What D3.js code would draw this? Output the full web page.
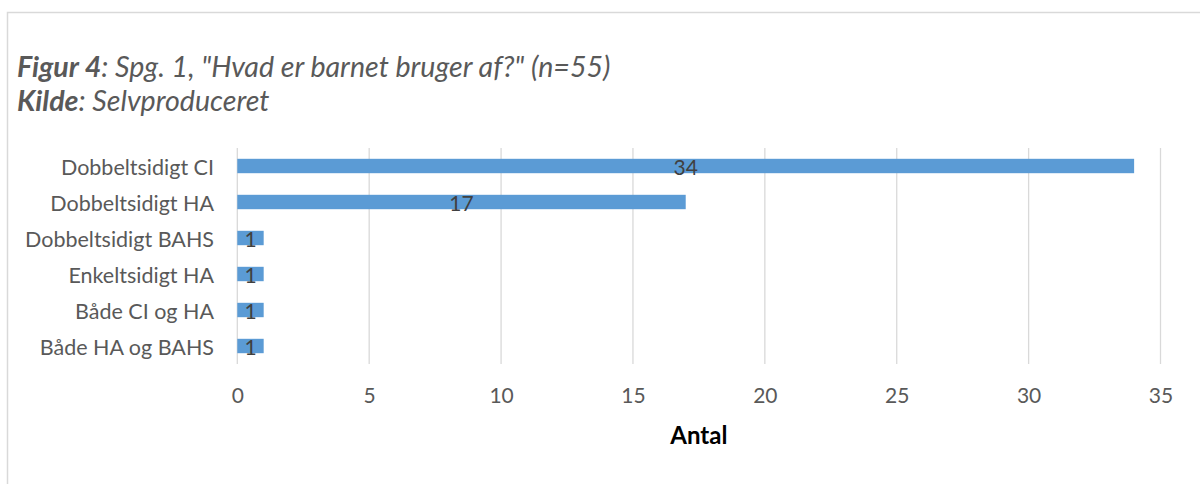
<!DOCTYPE html>
<html>
<head>
<meta charset="utf-8">
<script src="https://cdn.jsdelivr.net/npm/d3@7"></script>
<style>
  html, body { margin: 0; padding: 0; background: #fff; }
  svg { display: block; }
  text { font-family: Lato, "Open Sans", sans-serif; }
</style>
</head>
<body>
<svg id="chart" width="1200" height="484"></svg>
<script>
// Survey answers: what hearing device the child uses
const categories = [
  "Dobbeltsidigt CI",
  "Dobbeltsidigt HA",
  "Dobbeltsidigt BAHS",
  "Enkeltsidigt HA",
  "Både CI og HA",
  "Både HA og BAHS"
];
const counts = [34, 17, 1, 1, 1, 1];
const xTicks = [0, 5, 10, 15, 20, 25, 30, 35];
const xTitle = "Antal";

const svg = d3.select("#chart");

// Outer chart frame
svg.append("path")
  .attr("d", "M7.5,490 L7.5,12.5 L1210,12.5")
  .attr("fill", "none")
  .attr("stroke", "#d9d9d9")
  .attr("stroke-width", 1.5);

// Title block
const title = svg.append("text")
  .attr("x", 17)
  .attr("y", 77)
  .attr("font-size", 28.6)
  .attr("font-style", "italic")
  .attr("fill", "#595959");
title.append("tspan").attr("font-weight", "bold").text("Figur 4");
title.append("tspan").text(": Spg. 1, \"Hvad er barnet bruger af?\" (n=55)");

const source = svg.append("text")
  .attr("x", 17)
  .attr("y", 111)
  .attr("font-size", 28.6)
  .attr("font-style", "italic")
  .attr("fill", "#595959");
source.append("tspan").attr("font-weight", "bold").text("Kilde");
source.append("tspan").text(": Selvproduceret");

// Scales
const x = d3.scaleLinear().domain([0, 35]).range([237.3, 1160.5]);
const y = d3.scaleBand().domain(categories).range([148, 364])
  .paddingInner(0.6).paddingOuter(0.3);

// Vertical gridlines
svg.append("g")
  .selectAll("line")
  .data(xTicks)
  .join("line")
  .attr("x1", d => x(d)).attr("x2", d => x(d))
  .attr("y1", 148).attr("y2", 364)
  .attr("stroke", "#d9d9d9")
  .attr("stroke-width", 1.3);

// Bars
svg.append("g")
  .selectAll("rect")
  .data(categories)
  .join("rect")
  .attr("x", x(0))
  .attr("y", d => y(d))
  .attr("width", (d, i) => x(counts[i]) - x(0))
  .attr("height", y.bandwidth())
  .attr("fill", "#5b9bd5");

// Value labels centred on each bar
svg.append("g")
  .selectAll("text")
  .data(categories)
  .join("text")
  .attr("x", (d, i) => (x(0) + x(counts[i])) / 2)
  .attr("y", d => y(d) + y.bandwidth() / 2 + 8.5)
  .attr("text-anchor", "middle")
  .attr("font-size", 21)
  .attr("fill", "#404040")
  .text((d, i) => counts[i]);

// Category axis labels
const yAxis = d3.axisLeft(y).tickSize(0).tickPadding(0);
const yg = svg.append("g").attr("transform", "translate(214,0)").call(yAxis);
yg.select(".domain").remove();
yg.selectAll("text")
  .attr("font-family", "Lato, sans-serif")
  .attr("font-size", 21.5)
  .attr("fill", "#595959")
  .attr("dy", null)
  .attr("y", 8.5);

// Value axis tick labels
const xAxis = d3.axisBottom(x).tickValues(xTicks).tickSize(0).tickPadding(0);
const xg = svg.append("g").attr("transform", "translate(0,403)").call(xAxis);
xg.select(".domain").remove();
xg.selectAll("text")
  .attr("font-family", "Lato, sans-serif")
  .attr("font-size", 21)
  .attr("fill", "#595959")
  .attr("dy", null)
  .attr("y", 0);

// Value axis title
svg.append("text")
  .attr("x", (x(0) + x(35)) / 2)
  .attr("y", 444)
  .attr("text-anchor", "middle")
  .attr("font-size", 24)
  .attr("font-weight", "bold")
  .attr("fill", "#000")
  .text(xTitle);
</script>
</body>
</html>
